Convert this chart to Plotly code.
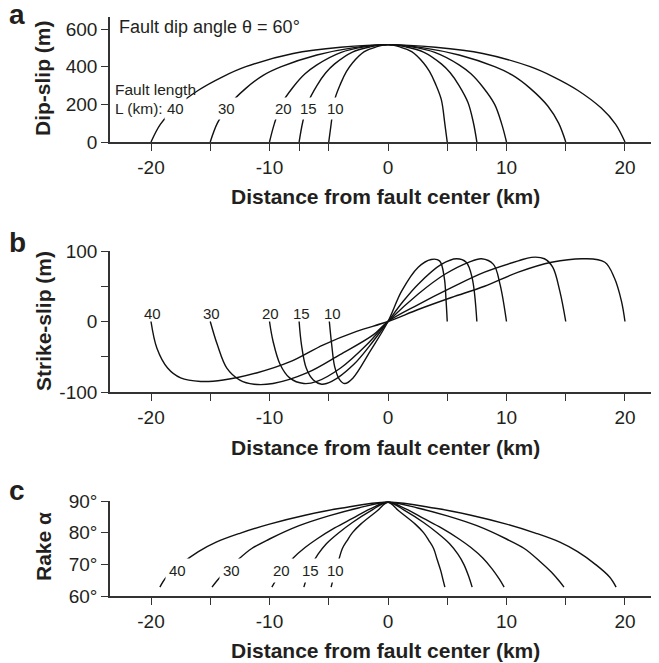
import plotly.graph_objects as go

# ---------------- data ----------------
fault_lengths = [10, 15, 20, 30, 40]
label_text = ["10", "15", "20", "30", "40"]

# Panel a: dip-slip (m), right half of each (symmetric) curve
dip_x = {
    10: [0, 1, 2, 3, 3.5, 4, 4.5, 4.8, 5],
    15: [0, 1.5, 3, 4.5, 5.25, 6, 6.75, 7.2, 7.5],
    20: [0, 2, 4, 6, 7, 8, 9, 9.6, 10],
    30: [0, 3, 6, 9, 10.5, 12, 13.5, 14.4, 15],
    40: [0, 4, 8, 12, 14, 16, 18, 19.2, 20],
}
dip_y = {
    10: [517, 505, 480, 420, 375, 310, 225, 95, 0],
    15: [517, 505, 478, 415, 368, 300, 210, 105, 0],
    20: [517, 505, 475, 410, 362, 292, 200, 95, 0],
    30: [517, 500, 462, 400, 355, 285, 190, 100, 0],
    40: [517, 503, 470, 400, 345, 275, 180, 95, 0],
}

# Panel b: strike-slip (m), full curves
ss_x = {
    10: [-4.95, -4.75, -4.5, -4.1, -3.65, -2.95, -1.5, 0, 1.15, 2.55, 3.65, 4.35, 4.75, 4.9, 5.0],
    15: [-7.5, -7.3, -6.9, -6.3, -5.6, -4.75, -2.9, -1.25, 0, 1.25, 2.55, 4.5, 5.8, 6.6, 7.1, 7.5],
    20: [-10, -9.7, -9.1, -8.3, -7.1, -6.0, -4.0, -1.8, 0, 2.55, 4.8, 6.8, 7.9, 8.9, 9.45, 10],
    30: [-15, -14.4, -13.6, -12.5, -11.3, -9.7, -6.85, -4.05, -1.25, 0,
         2.55, 5.35, 8.15, 11.0, 12.1, 13.2, 13.9, 14.5, 15],
    40: [-20, -19.5, -18.6, -17.5, -15.8, -13.9, -11.1, -8.25, -5.45, -2.65, 0,
         2.55, 5.35, 8.15, 11.0, 13.8, 16.6, 18.3, 19.1, 19.7, 20],
}
ss_y = {
    10: [0, -33, -64, -82, -88, -80, -42, 0, 43, 77, 88, 86, 62, 30, 0],
    15: [0, -33, -66, -83, -89, -85, -61, -28, 0, 28, 53, 81, 89, 84, 62, 0],
    20: [0, -28, -61, -80, -88, -85, -66, -33, 0, 39, 67, 84, 89, 81, 53, 0],
    30: [0, -33, -66, -83, -89, -88, -73, -47, -19, 0,
         24, 48, 70, 86, 91, 89, 77, 43, 0],
    40: [0, -38, -66, -80, -85, -83, -73, -57, -33, -14, 0,
         17, 34, 50, 70, 84, 89, 84, 62, 29, 0],
}

# Panel c: rake (deg), right half of each (symmetric) curve
rake_x = {
    10: [0, 0.9, 2.3, 3.0, 3.45, 3.85, 4.15, 4.45, 4.65, 4.8],
    15: [0, 1.5, 3, 4.2, 5.2, 5.9, 6.4, 6.8, 7.1],
    20: [0, 1.5, 3, 4.5, 6, 7, 8, 8.8, 9.4, 9.8],
    30: [0, 2.5, 5, 7.5, 10, 11.5, 12.8, 13.8, 14.5, 14.85],
    40: [0, 4, 7, 10, 12.5, 14.5, 16, 17.5, 18.7, 19.25],
}
rake_y = {
    10: [89.6, 86.9, 82.7, 80, 77.5, 75, 71.5, 68, 65, 62.8],
    15: [89.6, 86.8, 83.2, 79.8, 76.5, 73.2, 70, 66.3, 62.8],
    20: [89.6, 87.5, 84.5, 81.5, 78, 75.3, 72, 68.5, 65.3, 62.8],
    30: [89.6, 87.8, 85.3, 82.2, 78, 75, 71, 67.5, 64.5, 62.8],
    40: [89.6, 87.7, 85.5, 82.7, 79.8, 77, 74, 70, 66, 62.8],
}

# label positions (x km) for each fault length, per panel
lab_x_a = {40: -17.9, 30: -13.6, 20: -8.8, 15: -6.75, 10: -4.45}
lab_x_b = {40: -19.9, 30: -14.9, 20: -9.9, 15: -7.3, 10: -4.66}
lab_x_c = {40: -17.8, 30: -13.2, 20: -8.96, 15: -6.57, 10: -4.47}

# ---------------- figure ----------------
FONT = "Liberation Sans, Arial, Helvetica, sans-serif"
TXT = "#231f20"
LINE = "#333333"
W, H = 659, 663
OFF = 8  # page body offset of the plot div


def px(xp):
    return (xp - OFF) / W


def py(yp):
    return 1 - (yp - OFF) / H


fig = go.Figure()


def mirror(xs, ys):
    xf = [-v for v in reversed(xs[1:])] + list(xs)
    yf = list(reversed(ys[1:])) + list(ys)
    return xf, yf


line_style = dict(color="#111", width=1.4, shape="spline", smoothing=1)
for L in fault_lengths:
    xa, ya = mirror(dip_x[L], dip_y[L])
    fig.add_trace(go.Scatter(x=xa, y=ya, mode="lines", xaxis="x", yaxis="y",
                             line=line_style, showlegend=False, hoverinfo="skip"))
    fig.add_trace(go.Scatter(x=ss_x[L], y=ss_y[L], mode="lines", xaxis="x2", yaxis="y2",
                             line=line_style, showlegend=False, hoverinfo="skip"))
    xc, yc = mirror(rake_x[L], rake_y[L])
    fig.add_trace(go.Scatter(x=xc, y=yc, mode="lines", xaxis="x3", yaxis="y3",
                             line=line_style, showlegend=False, hoverinfo="skip"))

XR = [-23.46, 22.87]
XDOM = [px(110), 1.0]
XR = [-23.46, -23.46 + 46.33 * (1.0 - px(110)) / (px(659) - px(110))]


def ydom(bottom_px, top_px):
    return [py(bottom_px), py(top_px)]


common_axis = dict(showline=True, linecolor=LINE, linewidth=1.6, ticks="outside",
                   ticklen=7, tickwidth=1.4, tickcolor=LINE, showgrid=False,
                   zeroline=False, automargin=False,
                   tickfont=dict(size=19, color=TXT, family=FONT))

five = [-20, -15, -10, -5, 0, 5, 10, 15, 20]
five_txt = ["-20", "", "-10", "", "0", "", "10", "", "20"]

fig.update_layout(
    width=W, height=H, margin=dict(l=0, r=0, t=0, b=0, autoexpand=False),
    paper_bgcolor="white", plot_bgcolor="white",
    font=dict(family=FONT, color=TXT),
    xaxis=dict(domain=XDOM, range=XR, anchor="y",
               tickvals=[-20, -15, -10, -7.5, -5, 0, 5, 7.5, 10, 15, 20],
               ticktext=["-20", "", "-10", "", "", "0", "", "", "10", "", "20"],
               **common_axis),
    yaxis=dict(domain=ydom(142, 17), range=[0, 664], anchor="x",
               tickvals=[0, 200, 400, 600], ticktext=["0", "200", "400", "600"],
               **common_axis),
    xaxis2=dict(domain=XDOM, range=XR, anchor="y2", tickvals=five, ticktext=five_txt,
                **common_axis),
    yaxis2=dict(domain=ydom(392, 251), range=[-100, 100], anchor="x2",
                tickvals=[-100, -50, 0, 50, 100], ticktext=["-100", "", "0", "", "100"],
                **common_axis),
    xaxis3=dict(domain=XDOM, range=XR, anchor="y3", tickvals=five, ticktext=five_txt,
                **common_axis),
    yaxis3=dict(domain=ydom(596, 501), range=[60, 90], anchor="x3",
                tickvals=[60, 70, 80, 90], ticktext=["60°", "70°", "80°", "90°"],
                **common_axis),
)

ann = []
lab_font = dict(size=15, color=TXT, family=FONT)
C = dict(xanchor="center", yanchor="middle", showarrow=False)
for L, t in zip(fault_lengths, label_text):
    ann.append(dict(x=lab_x_a[L], y=180, xref="x", yref="y", text=t,
                    font=lab_font, bgcolor="white", borderpad=2, **C))
    ann.append(dict(x=lab_x_b[L], y=12, xref="x2", yref="y2", text=t,
                    font=lab_font, **C))
    ann.append(dict(x=lab_x_c[L], y=68.2, xref="x3", yref="y3", text=t,
                    font=lab_font, bgcolor="white", borderpad=3, **C))

ann.append(dict(x=-23.17, y=281, xref="x", yref="y", text="Fault length", xanchor="left",
                yanchor="middle", showarrow=False,
                font=dict(size=15.5, color=TXT, family=FONT)))
ann.append(dict(x=-23.17, y=180, xref="x", yref="y", text="L (km):", xanchor="left",
                yanchor="middle", showarrow=False,
                font=dict(size=15.5, color=TXT, family=FONT)))
ann.append(dict(x=-22.83, y=611, xref="x", yref="y", text="Fault dip angle θ = 60°",
                xanchor="left", yanchor="middle", showarrow=False,
                font=dict(size=18, color=TXT, family=FONT)))

for letter, ypx in [("a", 15), ("b", 242), ("c", 490)]:
    ann.append(dict(x=px(17), y=py(ypx), xref="paper", yref="paper", text=f"<b>{letter}</b>",
                    font=dict(size=28, color=TXT, family=FONT), **C))

title_font = dict(size=21, color=TXT, family=FONT)
for ttl, ypx in [("Dip-slip (m)", 78), ("Strike-slip (m)", 321), ("Rake α", 547)]:
    ann.append(dict(x=px(43), y=py(ypx), xref="paper", yref="paper", text=f"<b>{ttl}</b>",
                    textangle=-90, font=title_font, **C))
for ypx in [196, 447, 650]:
    ann.append(dict(x=px(385.5), y=py(ypx), xref="paper", yref="paper",
                    text="<b>Distance from fault center (km)</b>",
                    font=title_font, **C))

fig.update_layout(annotations=ann)
fig.write_html("out.html")
